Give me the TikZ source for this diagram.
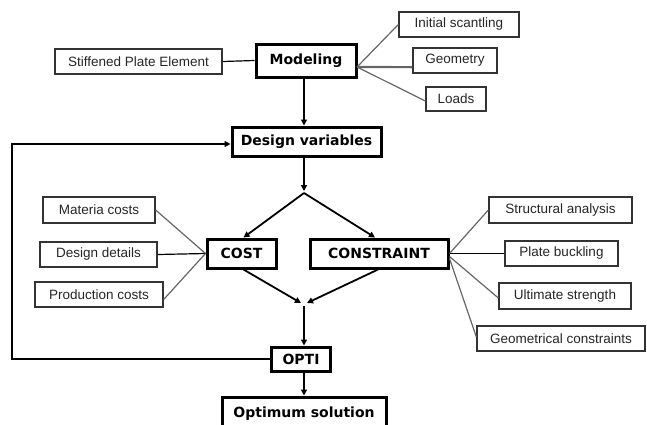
\documentclass[tikz,border=0pt]{standalone}
\usepackage{fontspec}
\setmainfont{Liberation Sans}
\newfontfamily\heavy{DejaVu Sans}
\usetikzlibrary{arrows.meta,calc}
\tikzset{
  plain/.style={draw=black!80, line width=1.3pt, inner sep=0pt, anchor=center,
    font=\fontsize{13.5}{16}\selectfont, text=black!85},
  main/.style={draw=black, line width=3pt, inner sep=0pt, anchor=center,
    font=\heavy\bfseries\fontsize{14}{16}\selectfont},
  flow/.style={line width=1.8pt, -{Triangle[length=6pt,width=6pt]}},
  link/.style={line width=1.2pt, draw=black!60},
  darklink/.style={line width=1.2pt, draw=black},
}
\begin{document}
\begin{tikzpicture}[x=1pt,y=-1pt]
\clip (0,0) rectangle (647,424);
\fill[white] (0,0) rectangle (647,424);
% main nodes
\node[main, minimum width=100, minimum height=33] (model) at (306,60.5) {Modeling};
\node[main, minimum width=149, minimum height=29] (dv) at (306.5,141.5) {Design variables};
\node[main, minimum width=69, minimum height=29] (cost) at (241.5,253.5) {COST};
\node[main, minimum width=138, minimum height=29] (cons) at (379,253.5) {CONSTRAINT};
\node[main, minimum width=59, minimum height=24] (opti) at (301,359) {OPTI};
\node[main, minimum width=164, minimum height=34, text depth=0pt] (opt) at (304,414) {\raisebox{4pt}{Optimum solution}};
% side nodes
\node[plain, minimum width=167, minimum height=25] (spe) at (138.5,61.5) {Stiffened Plate Element};
\node[plain, minimum width=120, minimum height=25] (init) at (459,24.5) {Initial scantling};
\node[plain, minimum width=84, minimum height=25] (geom) at (455,60.5) {Geometry};
\node[plain, minimum width=60, minimum height=24] (loads) at (456,99) {Loads};
\node[plain, minimum width=112, minimum height=26] (mat) at (99,210) {Materia costs};
\node[plain, minimum width=117, minimum height=25] (dd) at (98.5,254.5) {Design details};
\node[plain, minimum width=128, minimum height=25] (prod) at (99,294.5) {Production costs};
\node[plain, minimum width=143, minimum height=26] (sa) at (560.5,210) {Structural analysis};
\node[plain, minimum width=113, minimum height=25] (pb) at (561.5,253.5) {Plate buckling};
\node[plain, minimum width=132, minimum height=26] (us) at (565,296) {Ultimate strength};
\node[plain, minimum width=168, minimum height=25] (gc) at (561,338.5) {Geometrical constraints};
% helper coordinates
\coordinate (spine) at (304,0);
\coordinate (mfan) at (357,67);
\coordinate (apex) at (304,193);
\coordinate (merge) at (304,304);
\coordinate (fbA) at (12,359);
\coordinate (fbB) at (12,144);
% side connectors
\draw[darklink] (spe.east) -- (model.west);
\draw[link] (mfan) -- (init.west);
\draw[link, line width=2.2pt] (mfan) -- ([yshift=6.5]geom.south west);
\draw[link] (mfan) -- ([yshift=-2]loads.west);
\draw[link] (cost.west) -- (mat.east);
\draw[darklink] (cost.west) -- (dd.east);
\draw[link] (cost.west) -- ([yshift=-5]prod.east);
\draw[link] (cons.east) -- (sa.west);
\draw[darklink] (cons.east) -- (pb.west);
\draw[link] ([yshift=-3]cons.east) -- ([yshift=-2]us.west);
\draw[link] ([yshift=-5]cons.east) -- ([yshift=1.5]gc.west);
% flow
\draw[flow] (model.south -| spine) -- (dv.north -| spine);
\draw[flow] (dv.south -| spine) -- ([yshift=2]apex);
\draw[flow] (apex) -- ([xshift=2]cost.north);
\draw[flow] (apex) -- ([xshift=-4]cons.north);
\draw[flow] ([xshift=2]cost.south) -- ([xshift=-3,yshift=1]merge);
\draw[flow] ([xshift=-1]cons.south) -- ([xshift=3,yshift=1]merge);
\draw[flow] ([yshift=-2]merge) -- (opti.north -| spine);
\draw[flow] (opti.south -| spine) -- (opt.north -| spine);
\draw[flow] (opti.west) -- (fbA) -- (fbB) -- (fbB -| dv.west);
\end{tikzpicture}
\end{document}
